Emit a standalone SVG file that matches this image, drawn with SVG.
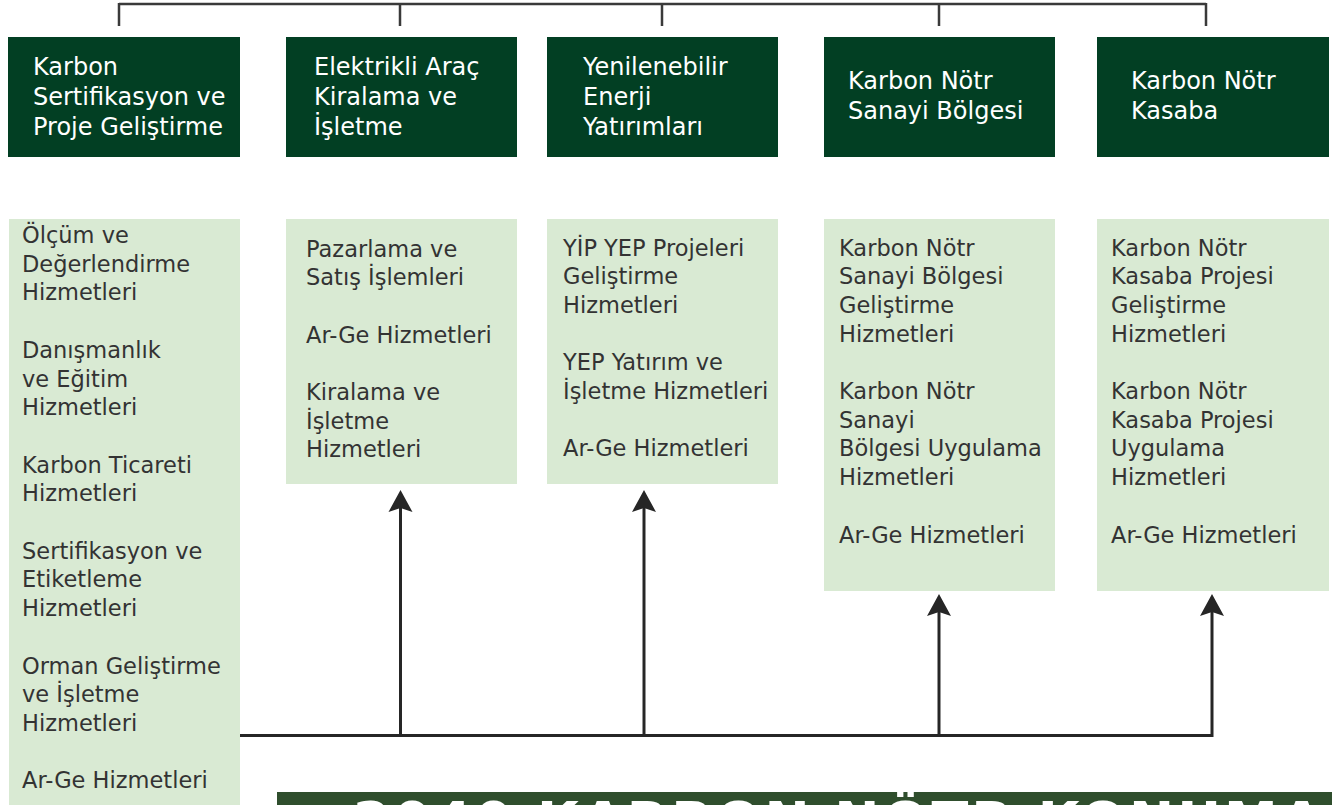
<svg xmlns="http://www.w3.org/2000/svg" width="1332" height="805" viewBox="0 0 1332 805">
<style>
.hdr{fill:#023f23}
.lt{fill:#d9ead3}
.ht{font-family:"DejaVu Sans","Liberation Sans",sans-serif;font-size:24px;fill:#ffffff}
.bt{font-family:"DejaVu Sans","Liberation Sans",sans-serif;font-size:22.5px;fill:#333333}
.top{fill:none;stroke:#3a3a3a;stroke-width:2.5}
.arr{fill:none;stroke:#262626;stroke-width:3}
.ban{font-family:"DejaVu Sans","Liberation Sans",sans-serif;font-size:54px;font-weight:bold;fill:#ffffff;letter-spacing:3px}
</style>
<defs>
<marker id="ah" viewBox="-14 -14 28 28" refX="0" refY="0" markerWidth="28" markerHeight="28" markerUnits="userSpaceOnUse" orient="auto" overflow="visible">
<path d="M9,0 L-13,-12 L-9,0 L-13,12 Z" fill="#262626"/>
</marker>
</defs>
<rect width="1332" height="805" fill="#ffffff"/>

<g id="connectors">
<path class="top" d="M119,4 H1206 M119,3 V26 M400,4 V26 M662,4 V26 M939,4 V26 M1206,3 V26"/>
<path class="arr" d="M240,735.5 H1212 V603" marker-end="url(#ah)"/>
<path class="arr" d="M400.5,735.5 V499" marker-end="url(#ah)"/>
<path class="arr" d="M644,735.5 V499" marker-end="url(#ah)"/>
<path class="arr" d="M939,735.5 V603" marker-end="url(#ah)"/>
</g>

<g id="node-h1">
<rect class="hdr" x="8" y="37" width="232" height="120"/>
<text class="ht"><tspan x="33" y="75">Karbon</tspan><tspan x="33" y="105">Sertifikasyon ve</tspan><tspan x="33" y="135">Proje Geliştirme</tspan></text>
</g>
<g id="node-h2">
<rect class="hdr" x="286" y="37" width="231" height="120"/>
<text class="ht"><tspan x="314" y="75">Elektrikli Araç</tspan><tspan x="314" y="105">Kiralama ve</tspan><tspan x="314" y="135">İşletme</tspan></text>
</g>
<g id="node-h3">
<rect class="hdr" x="547" y="37" width="231" height="120"/>
<text class="ht"><tspan x="583" y="75">Yenilenebilir</tspan><tspan x="583" y="105">Enerji</tspan><tspan x="583" y="135">Yatırımları</tspan></text>
</g>
<g id="node-h4">
<rect class="hdr" x="824" y="37" width="231" height="120"/>
<text class="ht"><tspan x="848" y="89">Karbon Nötr</tspan><tspan x="848" y="119">Sanayi Bölgesi</tspan></text>
</g>
<g id="node-h5">
<rect class="hdr" x="1097" y="37" width="232" height="120"/>
<text class="ht"><tspan x="1131" y="89">Karbon Nötr</tspan><tspan x="1131" y="119">Kasaba</tspan></text>
</g>

<g id="node-s1">
<rect class="lt" x="9" y="219" width="231" height="586"/>
<text class="bt">
<tspan x="22" y="243">Ölçüm ve</tspan><tspan x="22" y="271.7">Değerlendirme</tspan><tspan x="22" y="300.4">Hizmetleri</tspan>
<tspan x="22" y="357.8">Danışmanlık</tspan><tspan x="22" y="386.5">ve Eğitim</tspan><tspan x="22" y="415.2">Hizmetleri</tspan>
<tspan x="22" y="472.6">Karbon Ticareti</tspan><tspan x="22" y="501.3">Hizmetleri</tspan>
<tspan x="22" y="558.7">Sertifikasyon ve</tspan><tspan x="22" y="587.4">Etiketleme</tspan><tspan x="22" y="616.1">Hizmetleri</tspan>
<tspan x="22" y="673.5">Orman Geliştirme</tspan><tspan x="22" y="702.2">ve İşletme</tspan><tspan x="22" y="730.9">Hizmetleri</tspan>
<tspan x="22" y="788.3">Ar-Ge Hizmetleri</tspan>
</text>
</g>
<g id="node-s2">
<rect class="lt" x="286" y="219" width="231" height="265"/>
<text class="bt">
<tspan x="306" y="256.5">Pazarlama ve</tspan><tspan x="306" y="285.2">Satış İşlemleri</tspan>
<tspan x="306" y="342.6">Ar-Ge Hizmetleri</tspan>
<tspan x="306" y="400">Kiralama ve</tspan><tspan x="306" y="428.7">İşletme</tspan><tspan x="306" y="457.4">Hizmetleri</tspan>
</text>
</g>
<g id="node-s3">
<rect class="lt" x="547" y="219" width="231" height="265"/>
<text class="bt">
<tspan x="563" y="255.5">YİP YEP Projeleri</tspan><tspan x="563" y="284.2">Geliştirme</tspan><tspan x="563" y="312.9">Hizmetleri</tspan>
<tspan x="563" y="370.3">YEP Yatırım ve</tspan><tspan x="563" y="399">İşletme Hizmetleri</tspan>
<tspan x="563" y="456.4">Ar-Ge Hizmetleri</tspan>
</text>
</g>
<g id="node-s4">
<rect class="lt" x="824" y="219" width="231" height="372"/>
<text class="bt">
<tspan x="839" y="255.5">Karbon Nötr</tspan><tspan x="839" y="284.2">Sanayi Bölgesi</tspan><tspan x="839" y="312.9">Geliştirme</tspan><tspan x="839" y="341.6">Hizmetleri</tspan>
<tspan x="839" y="399">Karbon Nötr</tspan><tspan x="839" y="427.7">Sanayi</tspan><tspan x="839" y="456.4">Bölgesi Uygulama</tspan><tspan x="839" y="485.1">Hizmetleri</tspan>
<tspan x="839" y="542.5">Ar-Ge Hizmetleri</tspan>
</text>
</g>
<g id="node-s5">
<rect class="lt" x="1097" y="219" width="232" height="372"/>
<text class="bt">
<tspan x="1111" y="255.5">Karbon Nötr</tspan><tspan x="1111" y="284.2">Kasaba Projesi</tspan><tspan x="1111" y="312.9">Geliştirme</tspan><tspan x="1111" y="341.6">Hizmetleri</tspan>
<tspan x="1111" y="399">Karbon Nötr</tspan><tspan x="1111" y="427.7">Kasaba Projesi</tspan><tspan x="1111" y="456.4">Uygulama</tspan><tspan x="1111" y="485.1">Hizmetleri</tspan>
<tspan x="1111" y="542.5">Ar-Ge Hizmetleri</tspan>
</text>
</g>

<g id="node-banner">
<rect x="277" y="792" width="1055" height="20" fill="#2f4e2d"/>
<text class="ban" x="353" y="840">2040 KARBON NÖTR KONUMA</text>
</g>
</svg>
